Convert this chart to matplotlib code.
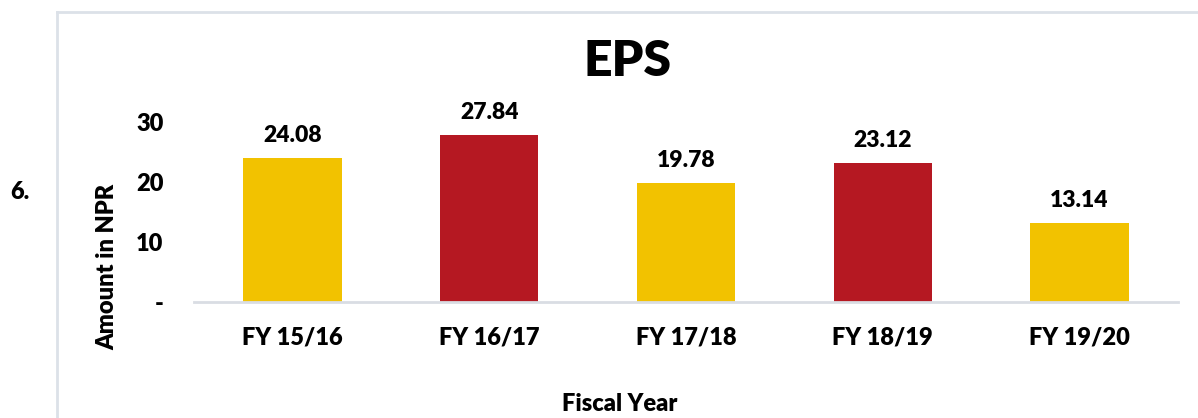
import matplotlib.pyplot as plt
from matplotlib.ticker import FuncFormatter

years = ['FY 15/16', 'FY 16/17', 'FY 17/18', 'FY 18/19', 'FY 19/20']
eps = [24.08, 27.84, 19.78, 23.12, 13.14]
bar_colors = ['#F2C200', '#B51822', '#F2C200', '#B51822', '#F2C200']

W = 'heavy'
plt.rcParams['font.family'] = ['Lato', 'DejaVu Sans']
plt.rcParams['font.weight'] = W

fig = plt.figure(figsize=(11.98, 4.18), dpi=100)
ax = fig.add_axes([194 / 1198, 116 / 418, 984 / 1198, 210 / 418])

x = range(len(years))
ax.bar(x, eps, width=0.5, color=bar_colors)
for i, v in enumerate(eps):
    ax.text(i, v + 2.0, f'{v:.2f}', ha='center', va='bottom', fontsize=16.5, fontweight=W)

ax.set_xlim(-0.5, 4.5)
ax.set_ylim(0, 35)
ax.set_yticks([0, 10, 20, 30])
ax.yaxis.set_major_formatter(FuncFormatter(lambda v, p: '-' if v == 0 else f'{v:.0f}'))
ax.set_xticks(list(x))
ax.set_xticklabels(years)
ax.tick_params(axis='y', length=0, pad=22, labelsize=17)
ax.tick_params(axis='x', length=0, pad=18, labelsize=17)

for s in ['top', 'right', 'left']:
    ax.spines[s].set_visible(False)
ax.spines['bottom'].set_color('#D9DDE3')
ax.spines['bottom'].set_linewidth(2)

fig.text(628 / 1198, 1 - 62 / 418, 'EPS', ha='center', va='center', fontsize=36, fontweight=W)
fig.text(107 / 1198, 1 - 267 / 418, 'Amount in NPR', rotation=90, ha='center', va='center', fontsize=17, fontweight=W)
fig.text(620 / 1198, 1 - 404 / 418, 'Fiscal Year', ha='center', va='center', fontsize=17, fontweight=W)
fig.text(20 / 1198, 1 - 192 / 418, '6.', ha='center', va='center', fontsize=17, fontweight=W)

# outer frame: only left and top edges are visible in the crop
fig.add_artist(plt.Line2D([57 / 1198, 57 / 1198], [0, 1 - 12 / 418], color='#DCE1E8', linewidth=2))
fig.add_artist(plt.Line2D([57 / 1198, 1], [1 - 12 / 418, 1 - 12 / 418], color='#DCE1E8', linewidth=2))

fig.savefig('out.png', dpi=100)
